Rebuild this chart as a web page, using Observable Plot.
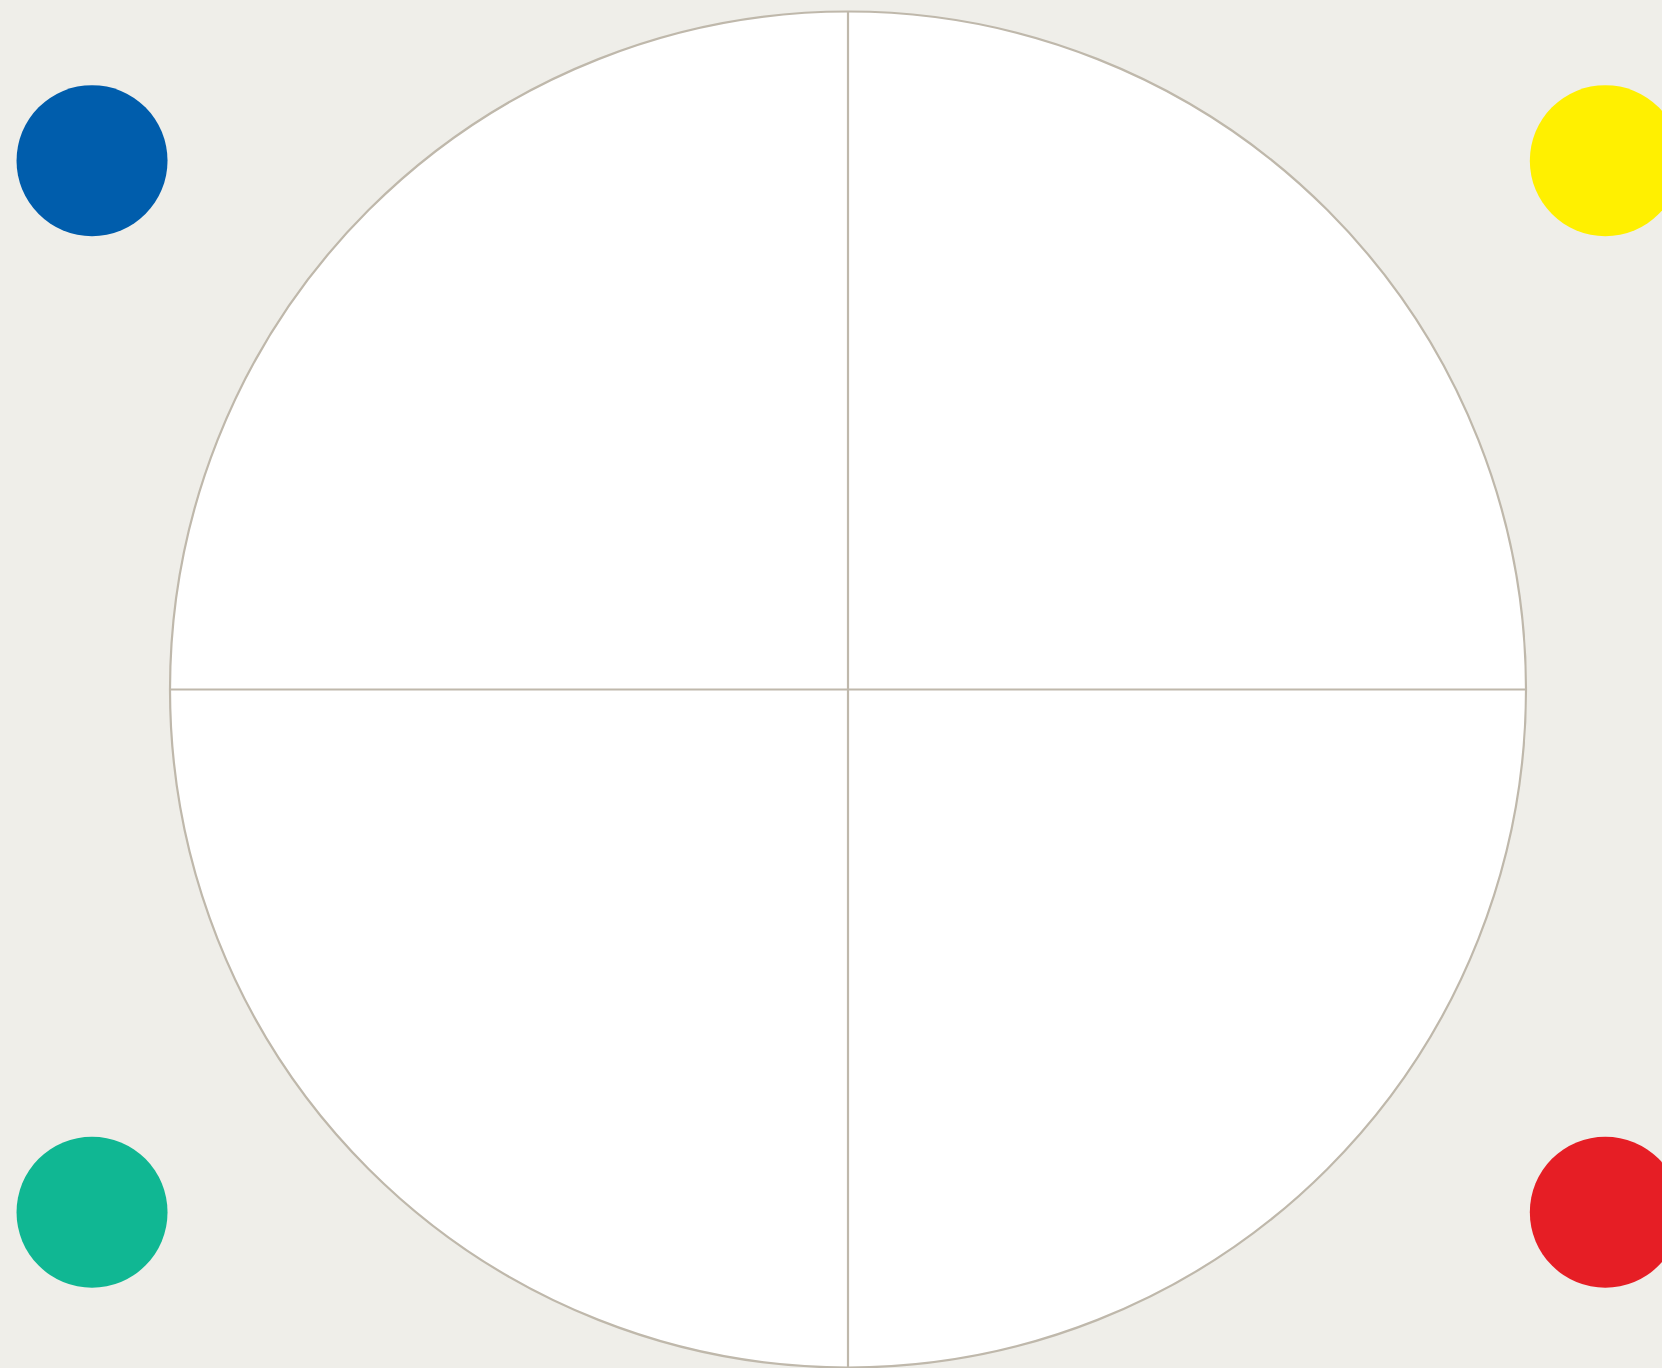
<!DOCTYPE html>
<html>
<head>
<meta charset="utf-8">
<script src="https://cdn.jsdelivr.net/npm/d3@7"></script>
<script src="https://cdn.jsdelivr.net/npm/@observablehq/plot@0.6"></script>
<style>
  html, body { margin: 0; padding: 0; background: #efeee9; overflow: hidden; }
  #chart svg { display: block; }
</style>
</head>
<body>
<div id="chart"></div>
<script>
// Quadrant markers (categories, positions in compass units, colours)
const quadrants = ["Authoritarian Left", "Authoritarian Right", "Libertarian Left", "Libertarian Right"];
const quadrantX = [-1.115, 1.117, -1.115, 1.117];
const quadrantY = [0.78, 0.78, -0.771, -0.771];
const quadrantColors = ["#005dac", "#fff000", "#10b793", "#e61e25"];

// Compass extent
const axisExtent = [-1, 1];
const origin = [0];

const markers = quadrants.map((q, i) => ({quadrant: q, x: quadrantX[i], y: quadrantY[i]}));

const chart = Plot.plot({
  width: 1662,
  height: 1368,
  margin: 0,
  style: {background: "#efeee9", overflow: "visible"},
  x: {domain: axisExtent, range: [169.5, 1525.5], axis: null},
  y: {domain: axisExtent, range: [1367, 11], axis: null},
  color: {domain: quadrants, range: quadrantColors},
  marks: [
    Plot.dot([{x: 0, y: 0}], {x: "x", y: "y", r: 678, fill: "white", stroke: "#bfb8ab", strokeWidth: 2.2, shapeRendering: "geometricPrecision"}),
    Plot.ruleX(origin, {y1: axisExtent[0], y2: axisExtent[1], stroke: "#bfb8ab", strokeWidth: 2.2, strokeOpacity: 1}),
    Plot.ruleY(origin, {x1: axisExtent[0], x2: axisExtent[1], stroke: "#bfb8ab", strokeWidth: 2.2, strokeOpacity: 1}),
    Plot.dot(markers, {x: "x", y: "y", r: 75.5, fill: "quadrant", shapeRendering: "geometricPrecision"})
  ]
});
chart.style.overflow = "hidden";
document.getElementById("chart").append(chart);
</script>
</body>
</html>
